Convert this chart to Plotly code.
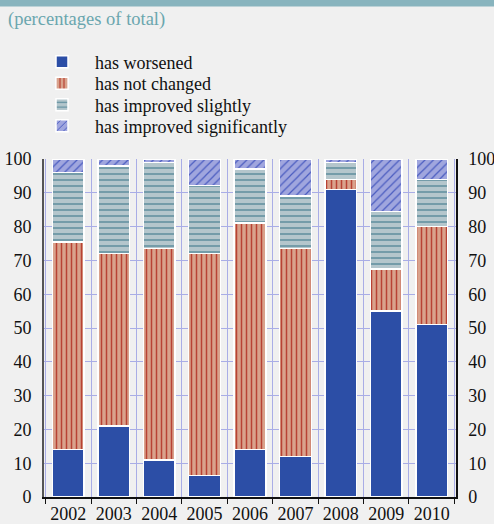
import plotly.graph_objects as go

years = ["2002", "2003", "2004", "2005", "2006", "2007", "2008", "2009", "2010"]
worsened = [14, 21, 11, 6.4, 14, 12, 91, 55, 51]
not_changed = [61.5, 51, 62.5, 65.6, 67, 61.5, 3, 12.5, 29]
improved_slightly = [20.5, 26, 25.5, 20.2, 16, 15.5, 5, 17, 14]
improved_significantly = [4, 2, 1, 7.8, 3, 11, 1, 15.5, 6]
series_names = ["has worsened", "has not changed", "has improved slightly", "has improved significantly"]
y_ticks = [0, 10, 20, 30, 40, 50, 60, 70, 80, 90, 100]

FONT = "Liberation Serif"
W, H = 494, 524
L, R, T, B = 44, 38, 159, 27
plot_h = H - T - B
plot_w = W - L - R

def py(px):
    return (H - B - px) / plot_h

def px_(x):
    return (x - L) / plot_w

fig = go.Figure()

styles = [
    dict(color="#2C4EA6"),
    dict(color="#D9A28C", pattern=dict(shape="|", fgcolor="#B84234", bgcolor="#D9A28C",
                                       size=5, solidity=0.3, fillmode="replace")),
    dict(color="#B4C6CC", pattern=dict(shape="-", fgcolor="#5E8E9E", bgcolor="#B4C6CC",
                                       size=6, solidity=0.25, fillmode="replace")),
    dict(color="#A0A6DE", pattern=dict(shape="/", fgcolor="#4A5CC0", bgcolor="#A0A6DE",
                                       size=6, solidity=0.2, fillmode="replace")),
]
legend_ids = ["legend", "legend2", "legend3", "legend4"]
legend_rows = [62, 83.5, 105, 126]
for name, vals, st, lg in zip(series_names,
                              [worsened, not_changed, improved_slightly, improved_significantly],
                              styles, legend_ids):
    marker = dict(line=dict(color="white", width=1.5), **st)
    fig.add_trace(go.Bar(x=years, y=vals, name=name, marker=marker, width=0.7,
                         legend=lg, hoverinfo="x+y+name"))

# invisible trace to anchor right axis
fig.add_trace(go.Scatter(x=years, y=worsened, yaxis="y2", mode="markers",
                         marker=dict(opacity=0), showlegend=False, hoverinfo="skip"))

legend_layout = {}
for lg, row in zip(legend_ids, legend_rows):
    legend_layout[lg] = dict(x=px_(29), xanchor="left", y=py(row), yanchor="middle",
                             itemwidth=56, bgcolor="rgba(0,0,0,0)",
                             font=dict(family=FONT, size=18, color="#111111"),
                             itemclick=False, itemdoubleclick=False)

fig.update_layout(
    width=W, height=H,
    margin=dict(l=L, r=R, t=T, b=B, pad=0, autoexpand=False),
    paper_bgcolor="#F0F0F0",
    plot_bgcolor="#F0F0F0",
    barmode="stack",
    bargap=0.3,
    font=dict(family=FONT, size=18, color="#222222"),
    title=dict(text="(percentages of total)", x=8 / W, xanchor="left",
               y=1 - 19 / H, yanchor="middle", xref="container", yref="container",
               font=dict(family=FONT, size=18.5, color="#6AA6AE")),
    xaxis=dict(showline=True, linecolor="#111111", linewidth=1.5, automargin=False,
               ticks="outside", tickson="boundaries", ticklen=5, tickcolor="#111111",
               tickangle=0,
               showgrid=True, gridcolor="#A9ADE6", gridwidth=1,
               tickfont=dict(family=FONT, size=18, color="#111111"), fixedrange=True),
    yaxis=dict(range=[0, 100], tickvals=y_ticks, showgrid=True, gridcolor="#A9ADE6",
               gridwidth=1, zeroline=False, showline=True, linecolor="#555555",
               linewidth=2, ticks="outside", ticklen=7, tickcolor="rgba(0,0,0,0)",
               automargin=False,
               tickfont=dict(family=FONT, size=18, color="#111111"), fixedrange=True),
    yaxis2=dict(range=[0, 100], tickvals=y_ticks, overlaying="y", side="right",
                showgrid=False, zeroline=False, showline=True, linecolor="#111111",
                linewidth=1.5, ticks="outside", ticklen=7, tickcolor="rgba(0,0,0,0)",
                automargin=False,
                tickfont=dict(family=FONT, size=18, color="#111111"), fixedrange=True),
    shapes=[dict(type="rect", xref="paper", yref="paper", x0=px_(-2), x1=px_(W + 2),
                 y0=py(6.5), y1=py(-2), fillcolor="#88B4BE", line=dict(width=0),
                 layer="above")],
    **legend_layout,
)

fig.write_html("out.html", config={"displayModeBar": False},
               post_script="document.body.style.margin='0';document.body.style.overflow='hidden';")
